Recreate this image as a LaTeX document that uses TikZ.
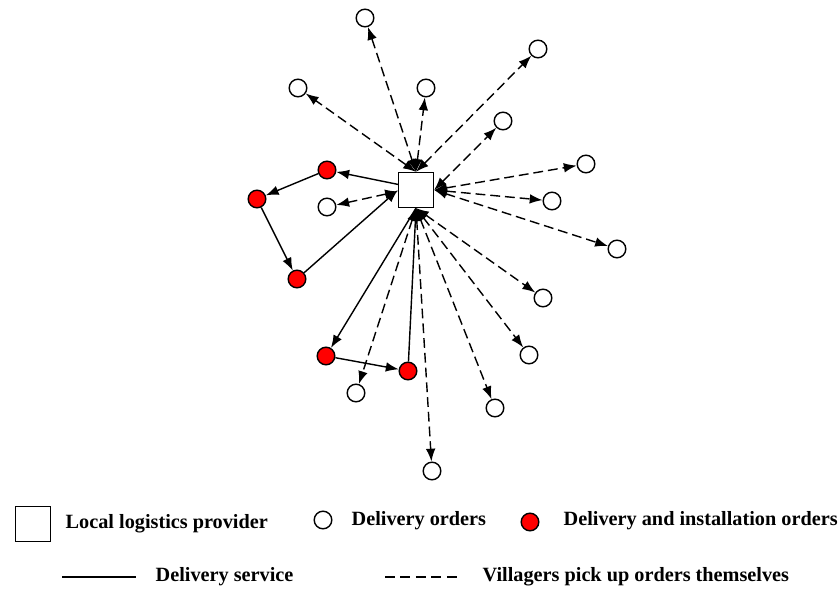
\documentclass[tikz,border=0pt]{standalone}
\usepackage{fontspec}
\setmainfont{Liberation Serif}
\usetikzlibrary{arrows.meta,positioning}

\begin{document}
\begin{tikzpicture}
  [
  x=0.025cm, y=-0.025cm,
  font=\fontsize{14.4}{17}\selectfont\bfseries, line width=1pt, >={Latex[length=3.2mm,width=2.4mm]},
  provider/.style={rectangle, minimum size=8.7mm, draw=black, fill=white, inner sep=0pt},
  order/.style={circle, minimum size=4.4mm, draw=black, fill=white, inner sep=0pt},
  install/.style={circle, minimum size=4.4mm, draw=black, fill=red, inner sep=0pt},
  service/.style={->},
  pickup/.style={<->, dash pattern=on 7pt off 3.5pt},
  legend/.style={anchor=west, inner sep=0pt}
  ]
\useasboundingbox (0,0) rectangle (840,589);

\node[provider] (lp) at (416,190) {};

% delivery orders
\foreach \n/\x/\y in {1/365/18, 2/538/49, 3/298/88, 4/426/88, 5/503/121,
  6/586/164, 7/552/201, 8/617/249, 9/543/298, 10/529/355, 11/495/408,
  12/432/471, 13/356/393, 14/327/207} {
  \node[order] (w\n) at (\x,\y) {};
}

% delivery and installation orders
\foreach \n/\x/\y in {1/327/170, 2/257/199, 3/297/279, 4/326/356, 5/408/371} {
  \node[install] (r\n) at (\x,\y) {};
}

\foreach \n in {1,2,3,4} {
  \draw[pickup] (lp.north) -- (w\n);
}
\foreach \n in {5,6,7,8} {
  \draw[pickup] (lp.east) -- (w\n);
}
\foreach \n in {9,10,11,12,13} {
  \draw[pickup] (lp.south) -- (w\n);
}
\draw[pickup] ([yshift=-1pt]lp.west) -- (w14);

% delivery routes
\draw[service] ([yshift=4pt]lp.west) -- (r1);
\draw[service] (r1) -- (r2);
\draw[service] (r2) -- (r3);
\draw[service] (r3) -- (lp.west);
\draw[service] (lp.south) -- (r4);
\draw[service] (r4) -- (r5);
\draw[service] (r5) -- (lp.south);

% legend
\node[provider] (lgp) at (33,524) {};
\node[legend] (tp) at (65,524) {Local logistics provider};
\node[order] (lgw) at (323,520) {};
\node[legend] (tw) at (351,521) {Delivery orders};
\node[install] (lgr) at (530,522) {};
\node[legend] (tr) at (563,521) {Delivery and installation orders};
\coordinate (s1) at (62,577);
\coordinate (s2) at (136,577);
\draw (s1) -- (s2);
\node[legend] (ts) at (155,577) {Delivery service};
\coordinate (d1) at (385,577);
\coordinate (d2) at (462,577);
\draw[dash pattern=on 7pt off 4pt] (d1) -- (d2);
\node[legend] (td) at (482,577) {Villagers pick up orders themselves};
\end{tikzpicture}
\end{document}
